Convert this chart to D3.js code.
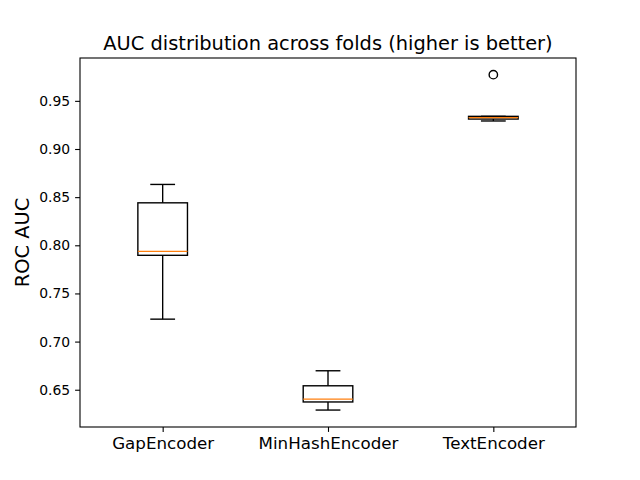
<!DOCTYPE html>
<html><head><meta charset="utf-8">
<script src="https://cdn.jsdelivr.net/npm/d3@7"></script>
<style>body{margin:0;background:#fff}svg{display:block}text{font-family:"DejaVu Sans",sans-serif}</style>
</head><body>
<svg id="c" width="640" height="480"></svg>
<script>
const categories = ["GapEncoder", "MinHashEncoder", "TextEncoder"];
const whiskerLow = [0.7233, 0.6289, 0.9291];
const q1 = [0.7896, 0.6373, 0.9311];
const median = [0.7937, 0.6403, 0.9326];
const q3 = [0.8441, 0.6541, 0.9339];
const whiskerHigh = [0.8632, 0.6697, 0.9339];
const outliers = [[], [], [0.9772]];
const yTicks = [0.65, 0.70, 0.75, 0.80, 0.85, 0.90, 0.95];

const svg = d3.select("#c");
const L = 80, R = 576, T = 58, B = 427;
const x = d3.scaleLinear().domain([0.5, 3.5]).range([L, R]);
const y = d3.scaleLinear().domain([0.6113, 0.9945]).range([B, T]);
const bw = x(1.15) - x(0.85), cw = x(1.075) - x(0.925);
const lw = 1.39;

categories.forEach((c, i) => {
  const cx = x(i + 1);
  const g = svg.append("g");
  g.append("line").attr("x1", cx).attr("x2", cx).attr("y1", y(q1[i])).attr("y2", y(whiskerLow[i])).attr("stroke", "#000").attr("stroke-width", lw);
  g.append("line").attr("x1", cx).attr("x2", cx).attr("y1", y(q3[i])).attr("y2", y(whiskerHigh[i])).attr("stroke", "#000").attr("stroke-width", lw);
  [whiskerLow[i], whiskerHigh[i]].forEach(v => {
    g.append("line").attr("x1", cx - cw / 2).attr("x2", cx + cw / 2).attr("y1", y(v)).attr("y2", y(v)).attr("stroke", "#000").attr("stroke-width", lw);
  });
  g.append("rect").attr("x", cx - bw / 2).attr("width", bw).attr("y", y(q3[i])).attr("height", y(q1[i]) - y(q3[i]))
    .attr("fill", "none").attr("stroke", "#000").attr("stroke-width", lw);
  g.append("line").attr("x1", cx - bw / 2).attr("x2", cx + bw / 2).attr("y1", y(median[i])).attr("y2", y(median[i])).attr("stroke", "#ff7f0e").attr("stroke-width", lw);
  outliers[i].forEach(v => {
    g.append("circle").attr("cx", cx).attr("cy", y(v)).attr("r", 4.2).attr("fill", "none").attr("stroke", "#000").attr("stroke-width", lw);
  });
});

const yAxis = d3.axisLeft(y).tickValues(yTicks).tickFormat(d3.format(".2f")).tickSize(4.9).tickPadding(4.9);
const ga = svg.append("g").attr("transform", `translate(${L},0)`).call(yAxis);
ga.select(".domain").remove();
ga.selectAll("line").attr("stroke", "#000").attr("stroke-width", 1.1);
ga.selectAll("text").attr("font-size", "13.9px").attr("fill", "#000").style("font-family", "DejaVu Sans");

const xAxis = d3.axisBottom(x).tickValues([1, 2, 3]).tickFormat((d, i) => categories[i]).tickSize(4.9).tickPadding(4.9);
const gx = svg.append("g").attr("transform", `translate(0,${B})`).call(xAxis);
gx.select(".domain").remove();
gx.selectAll("line").attr("stroke", "#000").attr("stroke-width", 1.1);
gx.selectAll("text").attr("font-size", "16.7px").attr("fill", "#000").style("font-family", "DejaVu Sans");

svg.append("rect").attr("x", L).attr("y", T).attr("width", R - L).attr("height", B - T).attr("fill", "none").attr("stroke", "#000").attr("stroke-width", 1.1);

svg.append("text").attr("x", (L + R) / 2).attr("y", 49.5).attr("text-anchor", "middle").attr("font-size", "19.4px").text("AUC distribution across folds (higher is better)");
svg.append("text").attr("transform", `translate(29,${(T + B) / 2}) rotate(-90)`).attr("text-anchor", "middle").attr("font-size", "19.4px").text("ROC AUC");
</script>
</body></html>
